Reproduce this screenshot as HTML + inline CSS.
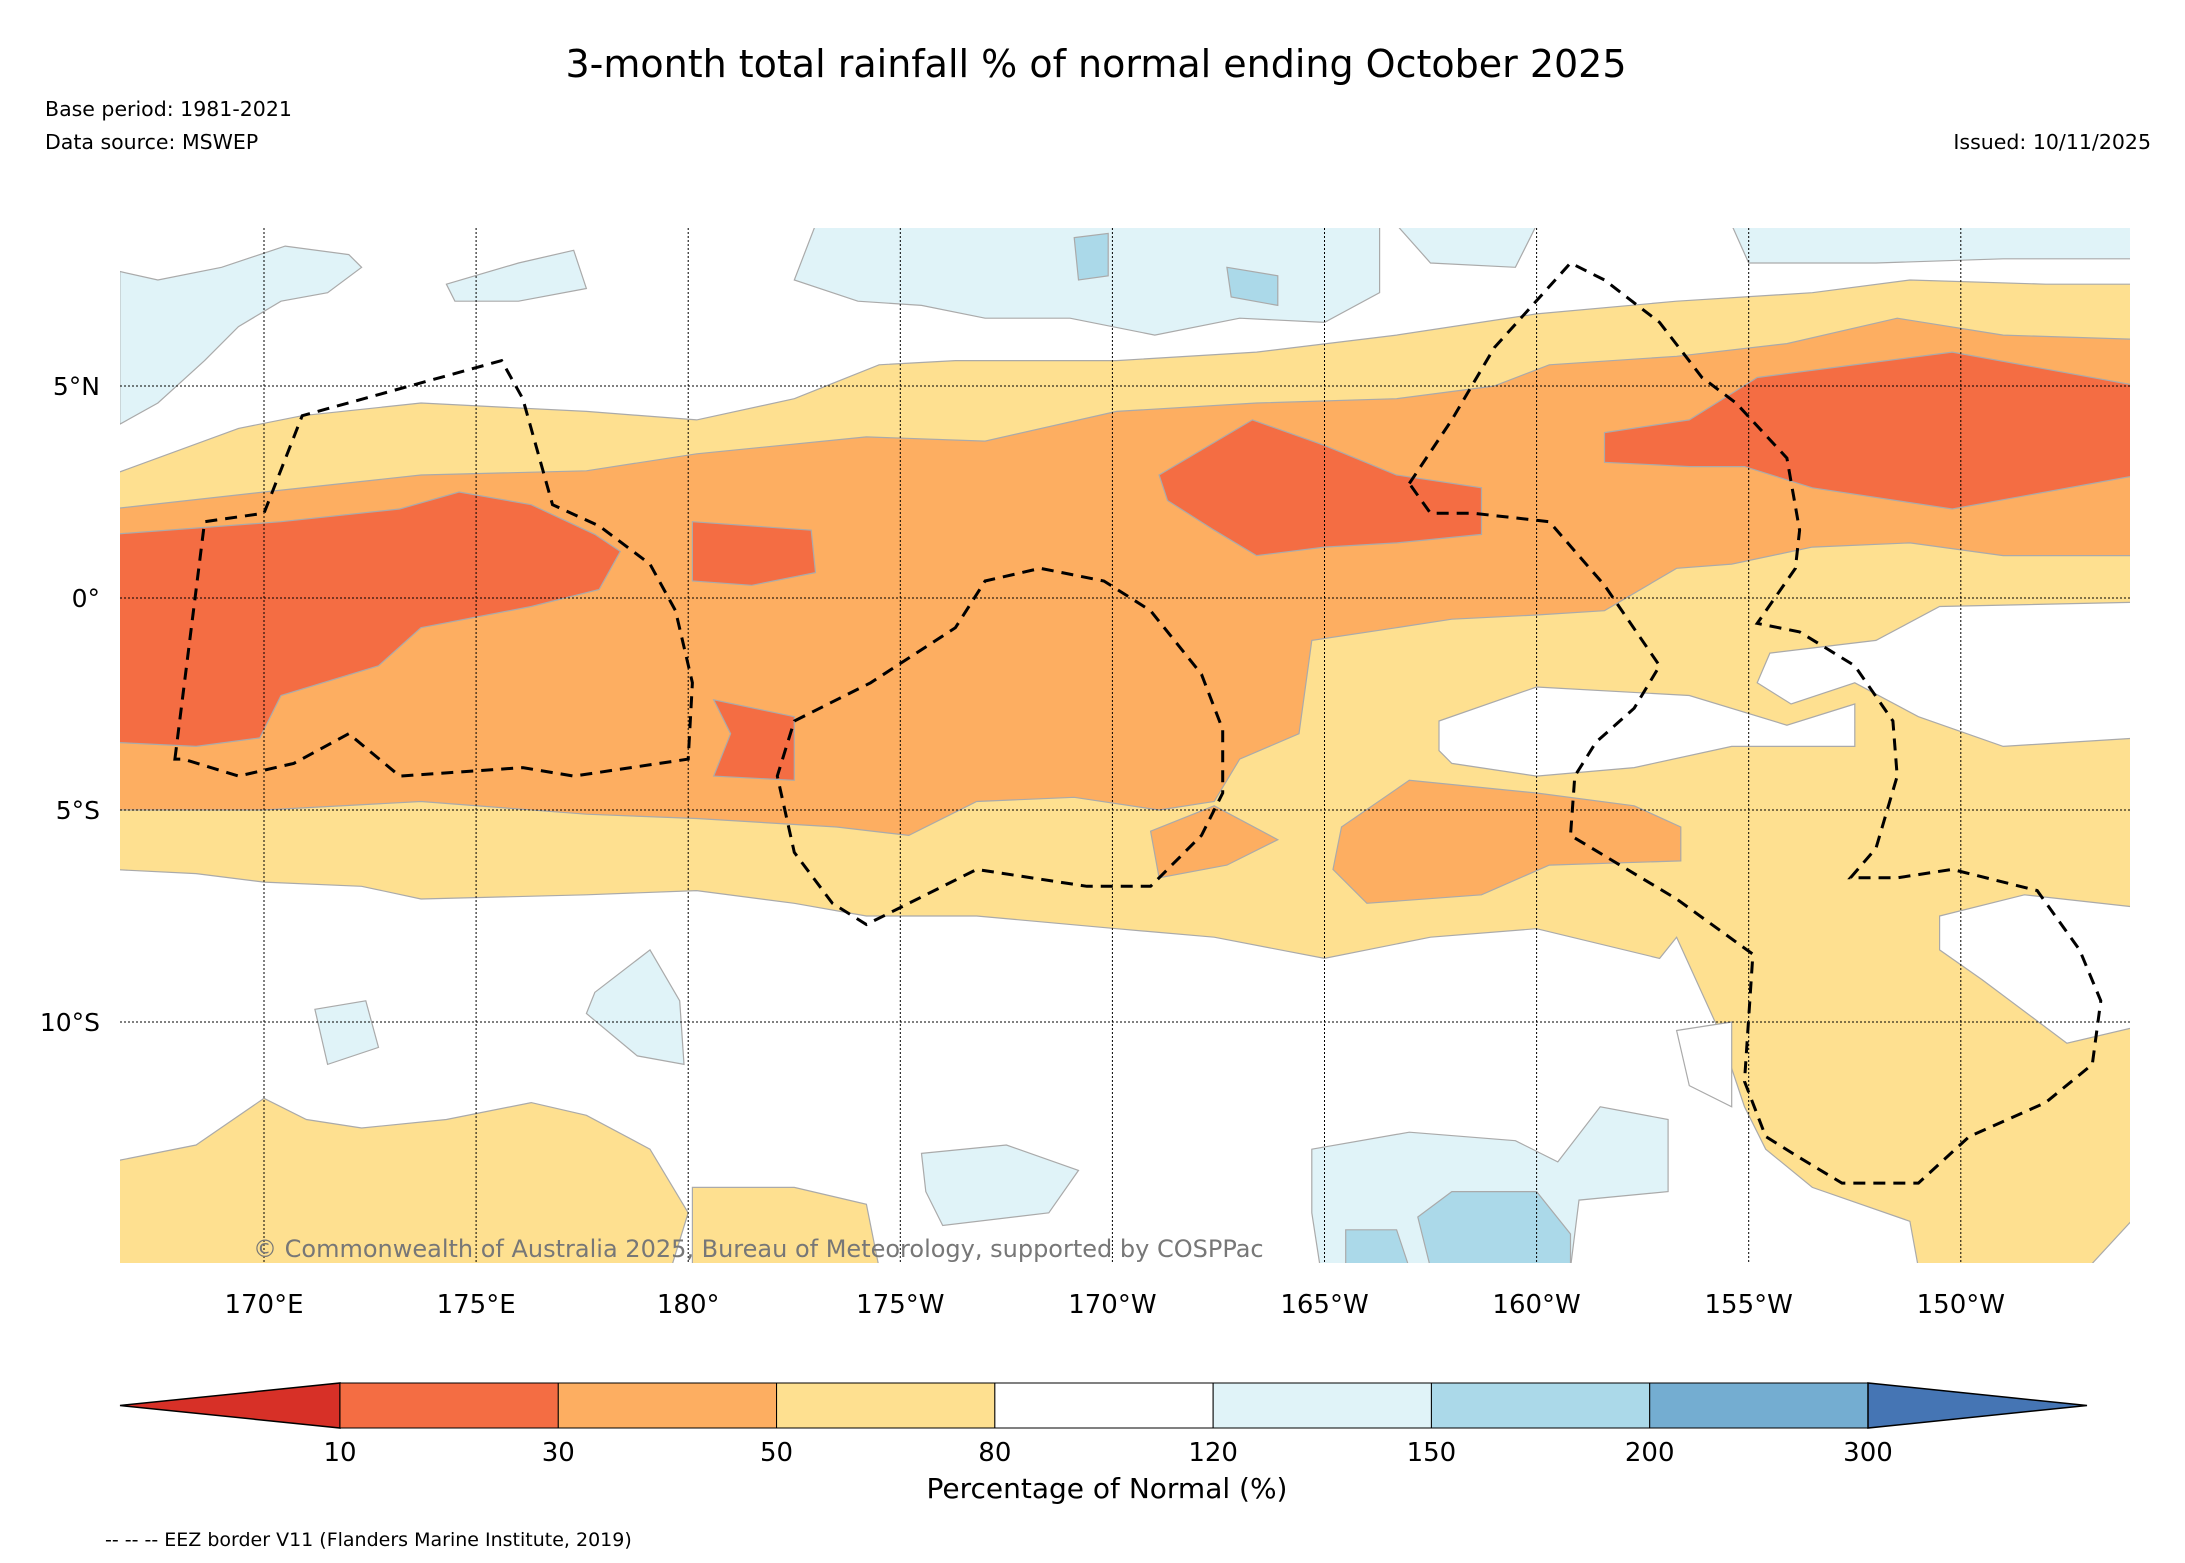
<!DOCTYPE html>
<html><head><meta charset="utf-8"><style>
html,body{margin:0;padding:0;background:#fff}
svg{display:block;font-family:"DejaVu Sans","Liberation Sans",sans-serif}
</style></head><body>
<svg id="s" width="2185" height="1563" viewBox="0 0 2185 1563">
<text x="1096" y="77" font-size="38" text-anchor="middle">3-month total rainfall % of normal ending October 2025</text>
<text x="45" y="116" font-size="20.5">Base period: 1981-2021</text>
<text x="45" y="149" font-size="20.5">Data source: MSWEP</text>
<text x="2151" y="149" font-size="20.5" text-anchor="end">Issued: 10/11/2025</text>
<defs><clipPath id="mc"><rect x="120" y="228" width="2010" height="1035"/></clipPath></defs>
<g id="map" clip-path="url(#mc)"></g>
<g id="axes"></g>
<g id="cbar"></g>
<text x="1107" y="1498" font-size="28" text-anchor="middle">Percentage of Normal (%)</text>
<text x="105" y="1546" font-size="19">-- -- -- EEZ border V11 (Flanders Marine Institute, 2019)</text>
</svg>
<script>
const lonTicks=[170,175,180,185,190,195,200,205,210];
const lonLabels=["170°E","175°E","180°","175°W","170°W","165°W","160°W","155°W","150°W"];
const latTicks=[5,0,-5,-10];
const latLabels=["5°N","0°","5°S","10°S"];
const cbBounds=["10","30","50","80","120","150","200","300"];
const cbColors=["#d73027","#f46d43","#fdae61","#fee090","#ffffff","#e0f3f8","#abd9e9","#74add1","#4575b4"];

const lightBlue=[
[[166.6,4.1],[167.5,4.6],[168.6,5.6],[169.4,6.4],[170.4,7.0],[171.5,7.2],[172.3,7.8],[172.0,8.1],[170.5,8.3],[169.0,7.8],[167.5,7.5],[166.6,7.7]],
[[174.3,7.4],[176.0,7.9],[177.3,8.2],[177.6,7.3],[176.0,7.0],[174.5,7.0]],
[[183.0,8.8],[196.3,8.8],[196.3,7.2],[195.0,6.5],[193.0,6.6],[191.0,6.2],[189.0,6.6],[187.0,6.6],[185.5,6.9],[184.0,7.0],[182.5,7.5]],
[[196.7,8.8],[200.0,8.8],[199.5,7.8],[197.5,7.9]],
[[204.6,8.8],[214.2,8.8],[214.2,8.0],[211.0,8.0],[208.0,7.9],[205.0,7.9]],
[[194.7,-13.0],[197.0,-12.6],[199.5,-12.8],[200.5,-13.3],[201.5,-12.0],[203.1,-12.3],[203.1,-14.0],[201.0,-14.2],[200.8,-15.8],[194.9,-15.8],[194.7,-14.5]],
[[185.5,-13.1],[187.5,-12.9],[189.2,-13.5],[188.5,-14.5],[186.0,-14.8],[185.6,-14.0]],
[[177.8,-9.3],[179.1,-8.3],[179.8,-9.5],[179.9,-11.0],[178.8,-10.8],[177.6,-9.8]],
[[171.2,-9.7],[172.4,-9.5],[172.7,-10.6],[171.5,-11.0]]
];
const yellow=[
[[166.4,2.9],[169.4,4.0],[170.9,4.3],[173.7,4.6],[177.6,4.4],[180.2,4.2],[182.5,4.7],[184.5,5.5],[186.3,5.6],[190.1,5.6],[193.4,5.8],[196.7,6.2],[200.0,6.7],[203.3,7.0],[206.5,7.2],[208.8,7.5],[212.0,7.4],[214.2,7.4],
[214.2,-14.5],[213.0,-15.8],[209.0,-15.8],[208.8,-14.7],[206.5,-13.9],[205.4,-13.0],[204.9,-12.0],[204.3,-10.2],[203.3,-8.0],[202.9,-8.5],[200.0,-7.8],[197.5,-8.0],[195.0,-8.5],[192.4,-8.0],[190.1,-7.8],[186.8,-7.5],[184.2,-7.5],[182.5,-7.2],[180.2,-6.9],[177.6,-7.0],[173.7,-7.1],[172.3,-6.8],[170.0,-6.7],[168.4,-6.5],[166.4,-6.4]],
[[166.4,-13.3],[168.4,-12.9],[170.0,-11.8],[171.0,-12.3],[172.3,-12.5],[174.3,-12.3],[176.3,-11.9],[177.6,-12.2],[179.1,-13.0],[180.0,-14.5],[179.6,-15.8],[166.4,-15.8]],
[[180.1,-13.9],[182.5,-13.9],[184.2,-14.3],[184.5,-15.8],[180.1,-15.8]]
];
const whiteHoles=[
[[197.7,-2.9],[200.0,-2.1],[203.6,-2.3],[205.9,-3.0],[207.5,-2.5],[207.5,-3.5],[204.6,-3.5],[202.3,-4.0],[200.0,-4.2],[198.0,-3.9],[197.7,-3.6]],
[[205.5,-1.3],[208.0,-1.0],[209.5,-0.2],[214.2,-0.1],[214.2,-3.3],[211.0,-3.5],[209.0,-2.8],[207.5,-2.0],[206.0,-2.5],[205.2,-2.0]],
[[209.5,-7.5],[211.5,-7.0],[214.2,-7.3],[214.2,-10.1],[212.5,-10.5],[210.5,-9.0],[209.5,-8.3]],
[[203.3,-10.2],[204.6,-10.0],[204.6,-12.0],[203.6,-11.5]]
];
const orange=[
[[166.4,2.1],[170.0,2.5],[173.7,2.9],[177.6,3.0],[180.2,3.4],[184.2,3.8],[187.0,3.7],[190.1,4.4],[193.4,4.6],[196.7,4.7],[199.0,5.0],[200.3,5.5],[203.3,5.7],[205.9,6.0],[208.5,6.6],[211.0,6.2],[214.2,6.1],
[214.2,1.0],[211.0,1.0],[208.8,1.3],[206.5,1.2],[204.6,0.8],[203.3,0.7],[201.6,-0.3],[200.0,-0.4],[198.0,-0.5],[196.7,-0.7],[194.7,-1.0],[194.4,-3.2],[193.0,-3.8],[192.4,-4.8],[191.1,-5.0],[189.1,-4.7],[186.8,-4.8],[185.2,-5.6],[183.5,-5.4],[180.2,-5.2],[177.6,-5.1],[173.7,-4.8],[170.0,-5.0],[166.4,-5.0]],
[[195.4,-5.4],[197.0,-4.3],[200.0,-4.6],[202.3,-4.9],[203.4,-5.4],[203.4,-6.2],[200.3,-6.3],[198.7,-7.0],[196.0,-7.2],[195.2,-6.4]],
[[190.9,-5.5],[192.4,-4.9],[193.9,-5.7],[192.7,-6.3],[191.1,-6.6]]
];
const red=[
[[166.4,1.5],[170.4,1.8],[173.2,2.1],[174.6,2.5],[176.3,2.2],[177.8,1.5],[178.4,1.1],[177.9,0.2],[176.3,-0.2],[173.7,-0.7],[172.7,-1.6],[170.4,-2.3],[169.9,-3.3],[168.4,-3.5],[166.4,-3.4]],
[[180.1,1.8],[182.9,1.6],[183.0,0.6],[181.5,0.3],[180.1,0.4]],
[[180.6,-2.4],[182.5,-2.8],[182.5,-4.3],[180.6,-4.2],[181.0,-3.2]],
[[191.1,2.9],[193.3,4.2],[195.0,3.6],[196.7,2.9],[198.7,2.6],[198.7,1.5],[196.7,1.3],[195.0,1.2],[193.4,1.0],[192.4,1.6],[191.3,2.3]],
[[201.6,3.9],[203.6,4.2],[205.2,5.2],[209.8,5.8],[214.2,5.0],[214.2,2.9],[209.8,2.1],[206.5,2.6],[204.9,3.1],[203.6,3.1],[201.6,3.2]]
];
const midBlue=[
[[189.1,8.5],[189.9,8.6],[189.9,7.6],[189.2,7.5]],
[[192.7,7.8],[193.9,7.6],[193.9,6.9],[192.8,7.1]],
[[198.0,-14.0],[200.0,-14.0],[200.8,-15.0],[200.8,-15.8],[197.5,-15.8],[197.2,-14.6]],
[[195.5,-14.9],[196.7,-14.9],[197.0,-15.8],[195.5,-15.8]]
];
const eez=[
[[167.9,-3.8],[168.6,1.8],[170.0,2.0],[170.9,4.3],[175.6,5.6],[176.1,4.7],[176.8,2.2],[177.9,1.7],[179.1,0.8],[179.7,-0.3],[180.1,-2.0],[180.0,-3.8],[177.3,-4.2],[176.1,-4.0],[173.2,-4.2],[172.0,-3.2],[170.7,-3.9],[169.4,-4.2],[168.1,-3.8]],
[[182.5,-2.9],[184.3,-2.0],[186.3,-0.7],[187.0,0.4],[188.3,0.7],[189.8,0.4],[190.9,-0.3],[192.1,-1.8],[192.6,-3.1],[192.6,-4.6],[192.1,-5.6],[190.9,-6.8],[189.4,-6.8],[186.8,-6.4],[184.2,-7.7],[183.4,-7.2],[182.5,-6.0],[182.1,-4.2]],
[[197.0,2.7],[198.0,4.2],[199.0,5.9],[200.8,7.9],[201.6,7.5],[202.9,6.5],[203.9,5.2],[204.7,4.6],[205.9,3.3],[206.2,1.6],[206.1,0.7],[205.2,-0.6],[206.2,-0.8],[207.5,-1.6],[208.4,-2.9],[208.5,-4.2],[208.0,-5.9],[207.4,-6.6],[208.5,-6.6],[209.8,-6.4],[211.8,-6.9],[212.8,-8.3],[213.3,-9.5],[213.1,-11.0],[212.0,-11.9],[210.2,-12.7],[209.0,-13.8],[207.2,-13.8],[206.2,-13.2],[205.4,-12.7],[204.9,-11.4],[205.1,-8.4],[203.3,-7.1],[200.8,-5.6],[200.9,-4.2],[201.4,-3.4],[202.3,-2.6],[202.9,-1.6],[201.6,0.3],[200.3,1.8],[198.5,2.0],[197.5,2.0]]
];

const NS="http://www.w3.org/2000/svg";
const X=lon=>264+(lon-170)*42.42;
const Y=lat=>598-lat*42.4;
const map=document.getElementById('map'),axes=document.getElementById('axes'),cbar=document.getElementById('cbar');
function mk(tag,attrs,parent){const e=document.createElementNS(NS,tag);for(const k in attrs)e.setAttribute(k,attrs[k]);parent.appendChild(e);return e;}
function pts(p){return p.map(q=>X(q[0]).toFixed(1)+','+Y(q[1]).toFixed(1)).join(' ');}
function layer(arr,fill,name){arr.forEach(p=>{const e=mk('polygon',{points:pts(p),fill:fill,stroke:'#aaaaaa','stroke-width':1.2},map);

});}
layer(lightBlue,cbColors[5],'rain-120-150-region');
layer(yellow,cbColors[3],'rain-50-80-region');
layer(whiteHoles,'#ffffff','rain-80-120-region');
layer(orange,cbColors[2],'rain-30-50-region');
layer(red,cbColors[1],'rain-10-30-region');
layer(midBlue,cbColors[6],'rain-150-200-region');
lonTicks.forEach((l,i)=>{const g=mk('line',{x1:X(l),x2:X(l),y1:228,y2:1263,stroke:'#000','stroke-width':1,'stroke-dasharray':'2,2'},map);


const t=mk('text',{x:X(l),y:1313,'font-size':26,'text-anchor':'middle'},axes);t.textContent=lonLabels[i];

});
latTicks.forEach((l,i)=>{const g=mk('line',{x1:120,x2:2130,y1:Y(l),y2:Y(l),stroke:'#000','stroke-width':1,'stroke-dasharray':'2,2'},map);


const t=mk('text',{x:100,y:Y(l)+9,'font-size':25,'text-anchor':'end'},axes);t.textContent=latLabels[i];

});
eez.forEach(p=>{const e=mk('polygon',{points:pts(p),fill:'none',stroke:'#000','stroke-width':3,'stroke-dasharray':'12,8'},map);

});
const cp=mk('text',{x:253,y:1257,'font-size':24,fill:'#777'},map);cp.textContent='© Commonwealth of Australia 2025, Bureau of Meteorology, supported by COSPPac';


// colorbar
const cx0=340,cx1=1868,cy0=1383,cy1=1428,n=cbBounds.length-1,w=(cx1-cx0)/n;
const lt=mk('polygon',{points:`120,${(cy0+cy1)/2} ${cx0},${cy0} ${cx0},${cy1}`,fill:cbColors[0],stroke:'#000','stroke-width':1.5},cbar);


for(let i=0;i<n;i++){const r=mk('rect',{x:cx0+i*w,y:cy0,width:w,height:cy1-cy0,fill:cbColors[i+1],stroke:'#000','stroke-width':1},cbar);

}
const rt=mk('polygon',{points:`2087,${(cy0+cy1)/2} ${cx1},${cy0} ${cx1},${cy1}`,fill:cbColors[8],stroke:'#000','stroke-width':1.5},cbar);


cbBounds.forEach((b,i)=>{const t=mk('text',{x:cx0+i*w,y:1461,'font-size':26,'text-anchor':'middle'},cbar);t.textContent=b;

});
</script>
</body></html>
